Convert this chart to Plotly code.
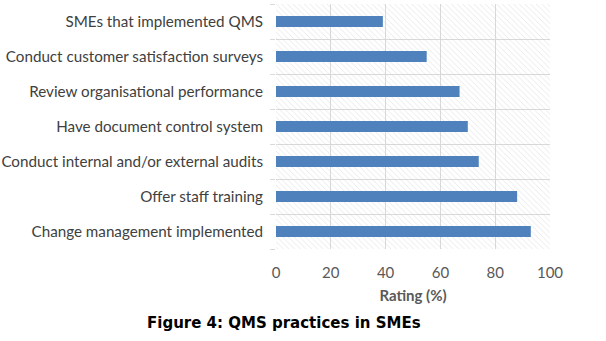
import plotly.graph_objects as go

categories = [
    "Change management implemented",
    "Offer staff training",
    "Conduct internal and/or external audits",
    "Have document control system",
    "Review organisational performance",
    "Conduct customer satisfaction surveys",
    "SMEs that implemented QMS",
]
ratings = [93, 88, 74, 70, 67, 55, 39]
x_ticks = [0, 20, 40, 60, 80, 100]
x_max = x_ticks[-1]

fig = go.Figure()
# hatched plot-area background, spanning the full axis range per category
fig.add_trace(go.Bar(
    y=categories, x=[x_max] * len(categories), orientation="h", width=1,
    marker=dict(color="rgba(0,0,0,0)", line=dict(width=0),
                pattern=dict(shape="\\", fgcolor="#cacaca", bgcolor="rgba(0,0,0,0)",
                             size=4, solidity=0.2)),
    hoverinfo="skip", showlegend=False,
))
fig.add_trace(go.Bar(
    y=categories, x=ratings, orientation="h", width=0.32,
    marker=dict(color="#4f81bd", line=dict(width=0)), showlegend=False,
))

fig.update_layout(
    width=606, height=341,
    margin=dict(l=276, r=56, t=4, b=92),
    paper_bgcolor="white", plot_bgcolor="white",
    barmode="overlay", hovermode=False,
    font=dict(family="Lato", size=15.2, color="#404040"),
    xaxis=dict(range=[0, x_max], tickvals=x_ticks, showgrid=True, gridcolor="#d9d9d9",
               gridwidth=1, zeroline=False, showline=False,
               ticks="outside", ticklen=10, tickcolor="rgba(0,0,0,0)",
               tickfont=dict(size=15, color="#595959"),
               title=dict(text="<b>Rating (%)</b>", font=dict(size=15, color="#595959"), standoff=10),
               automargin=False),
    yaxis=dict(type="category", categoryorder="array", categoryarray=categories,
               tickson="boundaries", showgrid=True, gridcolor="#d9d9d9", gridwidth=1,
               ticks="outside", ticklen=5, tickcolor="#d9d9d9", showline=False,
               ticklabelstandoff=12,
               tickfont=dict(size=15.2, color="#404040"), automargin=False),
    annotations=[dict(text="<b>Figure 4: QMS practices in SMEs</b>", xref="paper", yref="paper",
                      x=0.0, xanchor="center", xshift=7.5, y=0, yanchor="top", yshift=-63,
                      showarrow=False, font=dict(family="DejaVu Sans", size=15, color="black"))],
)

fig.write_html("out.html", config={"displayModeBar": False},
               post_script="document.body.style.margin='0px';")
